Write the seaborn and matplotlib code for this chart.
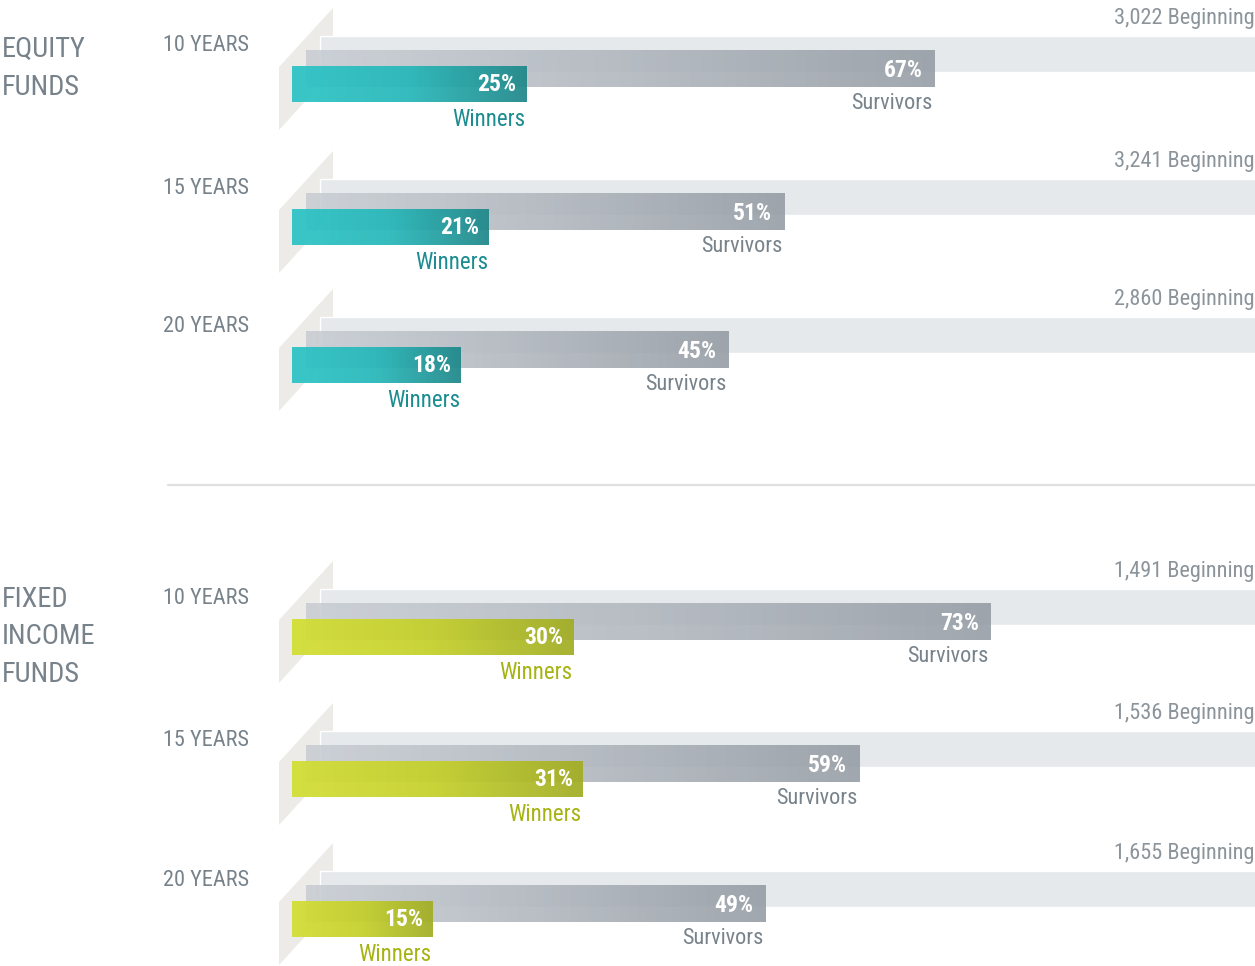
import numpy as np
import seaborn as sns
from matplotlib import pyplot as plt
from matplotlib import transforms, font_manager
from matplotlib.colors import LinearSegmentedColormap
from matplotlib.patches import Polygon

sns.set_theme(style="white")

# pick a narrow face if the box has one, the reference uses a condensed sans
fams = {f.name for f in font_manager.fontManager.ttflist}
prefer = ["Roboto Condensed", "Liberation Sans Narrow", "Open Sans Condensed",
          "Noto Sans Condensed", "DejaVu Sans Condensed", "Arial Narrow"]
narrow = next((n for n in prefer if n in fams), None)
if narrow is None:
  narrow = next((n for n in sorted(fams) if "Condensed" in n or "Narrow" in n), None)
stretch = "normal"
if narrow is None:
  cond = [f for f in font_manager.fontManager.ttflist
          if f.stretch in ("condensed", "semi-condensed", "extra-condensed")]
  if cond:
    narrow = cond[0].name
    stretch = "condensed"
  else:
    narrow = "Roboto"
plt.rcParams["font.family"] = [narrow, "DejaVu Sans"]
plt.rcParams["font.stretch"] = stretch

groups = ["EQUITY\nFUNDS", "FIXED\nINCOME\nFUNDS"]
horizons = ["10 YEARS", "15 YEARS", "20 YEARS"]
beginning = [3022, 3241, 2860, 1491, 1536, 1655]
survivors = [67, 51, 45, 73, 59, 49]
winners = [25, 21, 18, 30, 31, 15]

W, H = 1255, 966
X0 = 292     # pixel column where 0% sits
PX = 9.38    # pixels per percentage point


def px(x):
  return (x - X0) / PX


row_tops = [36, 179, 317, 589, 731, 871]
group_line_gap = [38, 37.5]

gray_txt = "#77828b"
begin_txt = "#8b949b"
win_txt = ["#1b8c90", "#a6b312"]

surv_cmap = LinearSegmentedColormap.from_list("surv", ["#c9ced4", "#b0b6bd", "#949ba3"])
win_cmaps = [
  LinearSegmentedColormap.from_list("teal", ["#2cc4c6", "#27b7b9", "#1f8789"]),
  LinearSegmentedColormap.from_list("lime", ["#d3de33", "#c4d02b", "#a2ad24"]),
]

fig = plt.figure(figsize=(W / 100, H / 100), dpi=100)
ax = fig.add_axes([0, 0, 1, 1])
ax.set_axis_off()
edge = transforms.blended_transform_factory(ax.transAxes, ax.transData)


def gradient_bar(top, left, width, h, cmap, alpha, z):
  bar = ax.barh(top + h / 2, width, left=left, height=h, color="none",
                edgecolor="none", zorder=z)[0]
  grad = np.linspace(0, 1, 256).reshape(1, -1)
  im = ax.imshow(grad, cmap=cmap, extent=[left, left + width, top + h, top],
                 aspect="auto", alpha=alpha, zorder=z, interpolation="bicubic")
  im.set_clip_path(bar)


for i, top in enumerate(row_tops):
  g = 0 if i < 3 else 1

  # slanted backdrop
  ax.add_patch(Polygon([(px(279), top + 31), (px(333), top - 28),
                        (px(333), top + 35), (px(279), top + 94)],
                       closed=True, color="#ecebe8", lw=0, zorder=1))
  # beginning band
  ax.barh(top + 18, 120, left=px(320), height=36, color="#e6e9ec", zorder=2)

  s_left = px(306)
  gradient_bar(top + 14, s_left, survivors[i], 37, surv_cmap, 0.88, 3)
  gradient_bar(top + 30, 0, winners[i], 36, win_cmaps[g], 0.93, 4)

  s_end = s_left + survivors[i]
  ax.annotate(f"{survivors[i]}%", xy=(s_end, top + 41), xytext=(-12, 0),
              textcoords="offset pixels", ha="right", va="baseline",
              color="white", fontsize=17, fontweight="bold", zorder=6)
  ax.annotate("Survivors", xy=(s_end, top + 73), xytext=(-2, 0),
              textcoords="offset pixels", ha="right", va="baseline",
              color=gray_txt, fontsize=16, zorder=6)
  ax.annotate(f"{winners[i]}%", xy=(winners[i], top + 55), xytext=(-10, 0),
              textcoords="offset pixels", ha="right", va="baseline",
              color="white", fontsize=17, fontweight="bold", zorder=6)
  ax.annotate("Winners", xy=(winners[i], top + 90), xytext=(-1, 0),
              textcoords="offset pixels", ha="right", va="baseline",
              color=win_txt[g], fontsize=16.5, zorder=6)

  ax.text(0.9995, top - 12, f"{beginning[i]:,} Beginning", transform=edge,
          ha="right", va="baseline", color=begin_txt, fontsize=16)
  ax.text(px(163), top + 15, horizons[i % 3], ha="left", va="baseline",
          color=gray_txt, fontsize=16)

for g, name in enumerate(groups):
  base = row_tops[g * 3] + (21 if g == 0 else 18)
  for k, line in enumerate(name.split("\n")):
    ax.text(px(2), base + k * group_line_gap[g], line, ha="left", va="baseline",
            color=gray_txt, fontsize=20.5)

ax.plot([px(168), px(W)], [485, 485], color="#e0e0e0", lw=1.6, zorder=1)

ax.set_xlim(px(0), px(W))
ax.set_ylim(H, 0)

fig.savefig("out.png", dpi=100)
